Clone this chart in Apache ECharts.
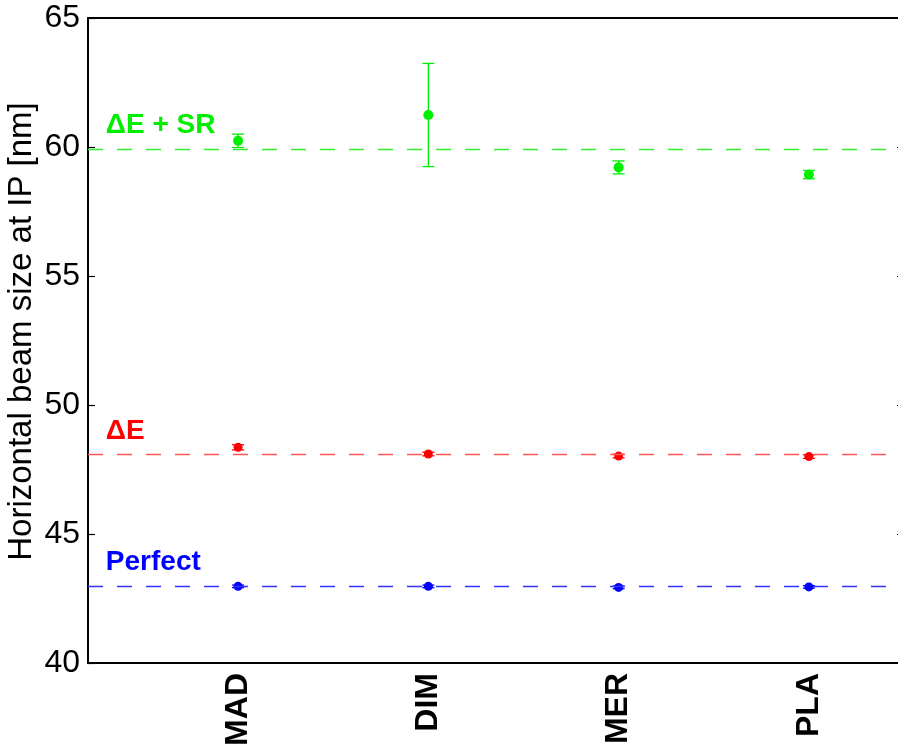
<!DOCTYPE html>
<html><head><meta charset="utf-8">
<script src="https://cdn.jsdelivr.net/npm/echarts@6/dist/echarts.min.js"></script>
<style>html,body{margin:0;padding:0;background:#fff;overflow:hidden}#c{width:898px;height:752px}</style>
</head><body><div id="c"></div><script>
// ---- data ----
const categories = ['MAD', 'DIM', 'MER', 'PLA'];
const catPos = [1, 2, 3, 4];
const perfectVals = [42.97, 42.97, 42.93, 42.95];
const perfectErr  = [0.05, 0.05, 0.05, 0.05];
const deltaEVals  = [48.36, 48.10, 48.02, 48.00];
const deltaEErr   = [0.10, 0.07, 0.07, 0.07];
const srVals      = [60.24, 61.24, 59.21, 58.93];
const srErr       = [0.26, 2.00, 0.25, 0.16];
const refValues   = [42.96, 48.11, 59.90];          // perfect, deltaE, deltaE+SR
const yTicks      = [40, 45, 50, 55, 60, 65];
const annoLabels  = ['Perfect', '\u0394E', '\u0394E + SR'];
const annoX       = [0.305, 0.305, 0.305];
const annoY       = [43.90, 49.00, 60.85];

// ---- styles ----
const colPoint = ['#0000ff', '#ff0000', '#00ee00'];
const colDash  = ['#3333ff', '#ff5555', '#33ee33'];
const FONT = '"Liberation Sans", Arial, sans-serif';

const chart = echarts.init(document.getElementById('c'), null, {renderer: 'canvas'});

function errRender(params, api) {
  const x = api.value(0), lo = api.value(1), hi = api.value(2);
  const p1 = api.coord([x, hi]), p2 = api.coord([x, lo]);
  const hw = 6;
  const style = {stroke: api.visual('color'), lineWidth: 1.3, fill: null};
  return {type: 'group', children: [
    {type: 'line', shape: {x1: p1[0], y1: p1[1], x2: p2[0], y2: p2[1]}, style: style},
    {type: 'line', shape: {x1: p1[0] - hw, y1: p1[1], x2: p1[0] + hw, y2: p1[1]}, style: style},
    {type: 'line', shape: {x1: p2[0] - hw, y1: p2[1], x2: p2[0] + hw, y2: p2[1]}, style: style}
  ]};
}

const groups = [
  {vals: perfectVals, err: perfectErr},
  {vals: deltaEVals, err: deltaEErr},
  {vals: srVals, err: srErr}
];

const series = [];
groups.forEach((g, k) => {
  series.push({
    type: 'custom',
    renderItem: errRender,
    itemStyle: {color: colPoint[k]},
    data: catPos.map((p, i) => [p, g.vals[i] - g.err[i], g.vals[i] + g.err[i]]),
    encode: {x: 0, y: [1, 2]},
    z: 3,
    silent: true
  });
  series.push({
    type: 'scatter',
    symbol: 'circle',
    symbolSize: k === 2 ? 10 : 9,
    itemStyle: {color: colPoint[k], opacity: 1},
    data: catPos.map((p, i) => [p, g.vals[i]]),
    z: 4,
    silent: true,
    markLine: {
      silent: true,
      symbol: 'none',
      label: {show: false},
      animation: false,
      lineStyle: {type: [15, 14], color: colDash[k], width: 1.3},
      data: [{yAxis: refValues[k]}]
    }
  });
});

series.push({
  type: 'custom',
  silent: true,
  z: 5,
  data: annoX.map((x, i) => [x, annoY[i]]),
  renderItem: function (params, api) {
    const pt = api.coord([api.value(0), api.value(1)]);
    const i = params.dataIndex;
    return {type: 'text', x: pt[0], y: pt[1], style: {
      text: annoLabels[i], fill: colPoint[i],
      font: 'bold 28px ' + FONT, align: 'left', verticalAlign: 'middle'
    }};
  }
});

const axisLineStyle = {show: true, onZero: false, lineStyle: {color: '#000', width: 2}};

chart.setOption({
  animation: false,
  backgroundColor: '#fff',
  grid: {left: 88, top: 18, width: 816, height: 645, containLabel: false, outerBoundsMode: 'none'},
  xAxis: [{
    type: 'value', min: 0.2112, max: 4.5, position: 'bottom',
    axisLine: axisLineStyle,
    axisTick: {show: false},
    splitLine: {show: false},
    axisLabel: {
      customValues: catPos,
      formatter: v => categories[catPos.indexOf(v)],
      rotate: 90, margin: 10,
      fontSize: 32, fontWeight: 'bold', color: '#000', fontFamily: FONT
    }
  }, {
    type: 'value', min: 0.2112, max: 4.5, position: 'top',
    axisLine: axisLineStyle, axisTick: {show: false}, axisLabel: {show: false}, splitLine: {show: false}
  }],
  yAxis: [{
    type: 'value', min: yTicks[0], max: yTicks[yTicks.length - 1], interval: 5, position: 'left',
    axisLine: axisLineStyle,
    axisTick: {show: true, inside: true, length: 7, lineStyle: {color: '#000', width: 1.2}},
    splitLine: {show: false},
    axisLabel: {fontSize: 32, color: '#000', fontFamily: FONT, margin: 8},
    name: 'Horizontal beam size at IP [nm]',
    nameLocation: 'middle', nameGap: 50, nameMoveOverlap: false,
    nameTextStyle: {fontSize: 33, color: '#000', fontFamily: FONT, padding: [0, 0, 0, 18]}
  }, {
    type: 'value', min: yTicks[0], max: yTicks[yTicks.length - 1], interval: 5, position: 'right',
    axisLine: axisLineStyle,
    axisTick: {show: true, inside: true, length: 7, lineStyle: {color: '#000', width: 1.2}},
    axisLabel: {show: false}, splitLine: {show: false}
  }],
  series: series
});
</script></body></html>
